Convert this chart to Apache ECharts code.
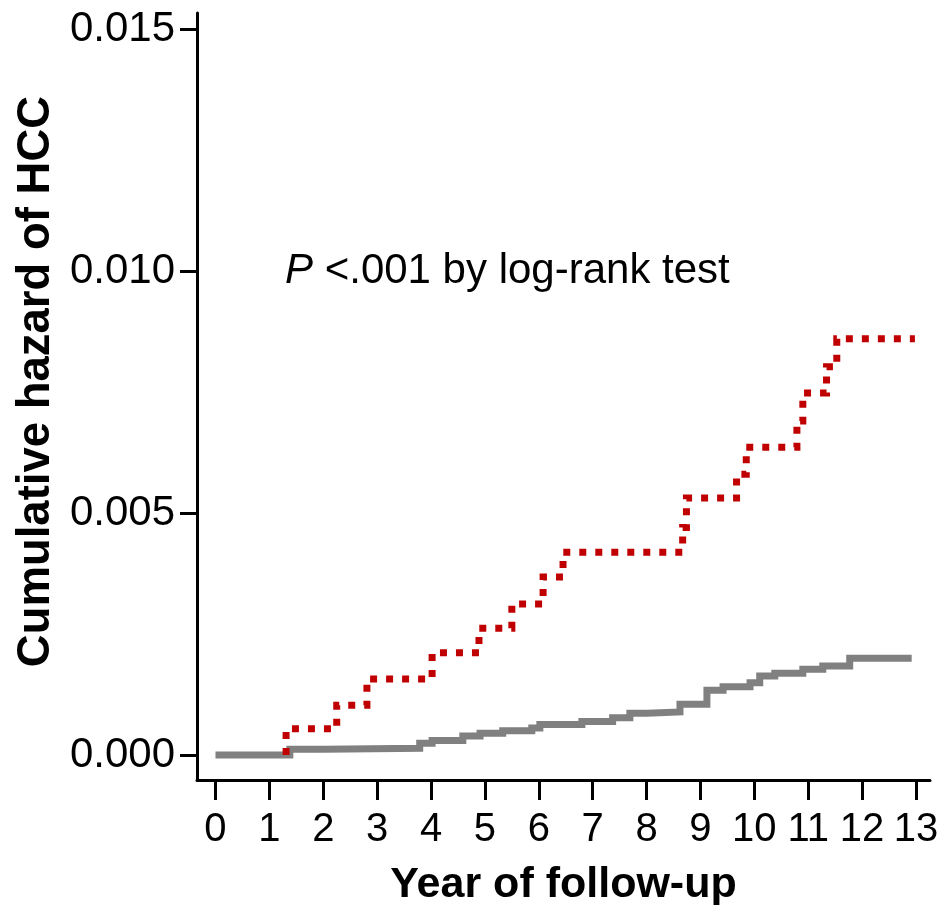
<!DOCTYPE html>
<html>
<head>
<meta charset="utf-8">
<script src="https://cdn.jsdelivr.net/npm/echarts@6/dist/echarts.min.js"></script>
<style>html,body{margin:0;padding:0;background:#fff;}#c{width:950px;height:905px;}</style>
</head>
<body>
<div id="c"></div>
<script>
// Data
const xTicks = [0,1,2,3,4,5,6,7,8,9,10,11,12,13];
const yTicks = [0, 0.005, 0.010, 0.015];

const redTimes  = [1.31, 1.31, 2.25, 2.81, 4.02, 4.89, 5.50, 6.08, 6.45, 8.67, 8.74, 9.67, 9.85, 10.79, 10.90, 11.34, 11.53, 12.98];
const redValues = [0, 0.00054, 0.00103, 0.00157, 0.00211, 0.00262, 0.00312, 0.00368, 0.00419, 0.00470, 0.00531, 0.00580, 0.00636, 0.00690, 0.00748, 0.00802, 0.00860, 0.00860];

const grayTimes  = [0, 1.38, 2.00, 3.79, 4.02, 4.59, 4.91, 5.33, 5.87, 6.02, 6.80, 7.37, 7.69, 8.01, 8.62, 9.12, 9.42, 9.92, 10.10, 10.38, 10.90, 11.27, 11.77, 12.92];
const grayValues = [0, 0.00012, 0.00014, 0.00024, 0.00030, 0.00039, 0.00045, 0.00050, 0.00056, 0.00063, 0.00069, 0.00077, 0.00086, 0.00089, 0.00105, 0.00134, 0.00141, 0.00149, 0.00163, 0.00169, 0.00177, 0.00184, 0.00200, 0.00200];

const zip = (a, b) => a.map((v, i) => [v, b[i]]);

const FONT = 'Liberation Sans, Arial, Helvetica, sans-serif';
const NARROW = 'Liberation Sans Narrow, Arial Narrow, Liberation Sans, Arial, sans-serif';

const chart = echarts.init(document.getElementById('c'), null, {renderer: 'canvas'});
chart.setOption({
  animation: false,
  backgroundColor: '#ffffff',
  grid: {left: 197, right: 20, top: 13, bottom: 125, containLabel: false, outerBoundsMode: 'none'},
  xAxis: {
    type: 'value',
    min: -0.343, max: 13.26,
    name: 'Year of follow-up',
    nameLocation: 'middle',
    nameGap: 84,
    nameTextStyle: {fontFamily: NARROW, fontWeight: 'bold', fontSize: 43, color: '#000'},
    axisLine: {show: true, onZero: false, lineStyle: {color: '#000', width: 3}},
    axisTick: {show: true, customValues: xTicks, length: 20, inside: false, lineStyle: {color: '#000', width: 3}},
    axisLabel: {customValues: xTicks, margin: 30, fontFamily: NARROW, fontSize: 40, color: '#000', hideOverlap: false},
    splitLine: {show: false}
  },
  yAxis: {
    type: 'value',
    min: -0.000517, max: 0.015331,
    name: 'Cumulative hazard of HCC',
    nameLocation: 'middle',
    nameGap: 128,
    nameRotate: 90,
    nameTextStyle: {fontFamily: FONT, fontWeight: 'bold', fontSize: 45.5, color: '#000', padding: [0, 0, 0, 30]},
    axisLine: {show: true, onZero: false, lineStyle: {color: '#000', width: 3}},
    axisTick: {show: true, customValues: yTicks, length: 17, lineStyle: {color: '#000', width: 3}},
    axisLabel: {customValues: yTicks, margin: 22, formatter: v => v.toFixed(3), fontFamily: FONT, fontSize: 42, color: '#000'},
    splitLine: {show: false}
  },
  graphic: [{
    type: 'text',
    left: 285, top: 250,
    style: {
      rich: {
        i: {fontFamily: FONT, fontStyle: 'italic', fontSize: 42, fill: '#000'},
        n: {fontFamily: FONT, fontSize: 42, fill: '#000'}
      },
      text: '{i|P}{n| <.001 by log-rank test}'
    }
  }],
  series: [
    {
      type: 'line', step: 'end', showSymbol: false, data: zip(grayTimes, grayValues),
      lineStyle: {color: '#808080', width: 7, cap: 'butt', join: 'miter'}, z: 2
    },
    {
      type: 'line', step: 'end', showSymbol: false, data: zip(redTimes, redValues),
      lineStyle: {color: '#C00000', width: 7, type: [7, 9], cap: 'butt', join: 'miter'}, z: 3
    }
  ]
});
</script>
</body>
</html>
